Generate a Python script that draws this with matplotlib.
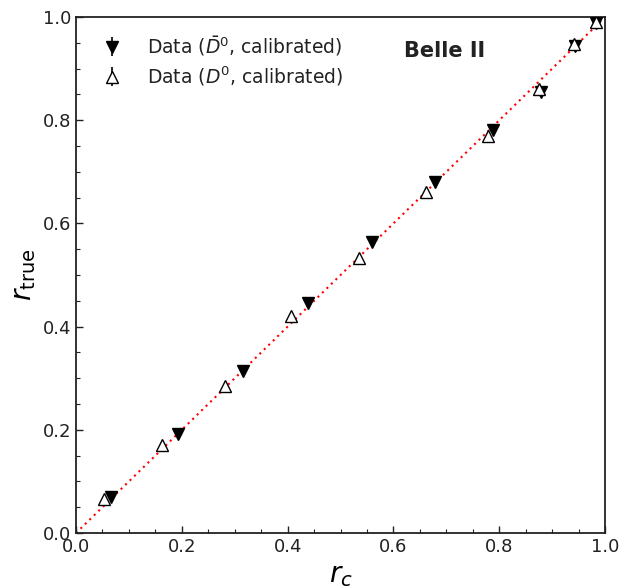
import matplotlib
matplotlib.use("Agg")
import matplotlib.pyplot as plt
from matplotlib.ticker import MultipleLocator

# D0bar (filled, down triangles)
rc_bar = [0.066, 0.192, 0.316, 0.438, 0.559, 0.678, 0.788, 0.879, 0.943, 0.983]
rt_bar = [0.070, 0.192, 0.313, 0.445, 0.564, 0.681, 0.781, 0.855, 0.944, 0.988]
err_bar = [0.005, 0.005, 0.005, 0.005, 0.005, 0.005, 0.005, 0.006, 0.006, 0.006]
# D0 (open, up triangles)
rc_d0 = [0.052, 0.163, 0.282, 0.406, 0.534, 0.662, 0.779, 0.875, 0.942, 0.983]
rt_d0 = [0.065, 0.170, 0.285, 0.420, 0.532, 0.661, 0.769, 0.861, 0.948, 0.990]
err_d0 = [0.005, 0.005, 0.005, 0.005, 0.005, 0.005, 0.005, 0.006, 0.006, 0.006]
diag = [0.0, 1.0]

fig = plt.figure(figsize=(6.21, 5.87), dpi=100)
ax = fig.add_axes([0.1224, 0.092, 0.852, 0.879])

ax.plot(diag, diag, color='red', linestyle=(0, (1, 2)), linewidth=1.5, zorder=1)
ax.errorbar(rc_bar, rt_bar, yerr=err_bar, fmt='v', color='black', markersize=8,
            elinewidth=1.2, capsize=0, label=r'Data ($\bar{D}^0$, calibrated)', zorder=3)
ax.errorbar(rc_d0, rt_d0, yerr=err_d0, fmt='^', color='black', markerfacecolor='white',
            markersize=8, elinewidth=1.2, capsize=0, label=r'Data ($D^0$, calibrated)', zorder=4)

ax.set_xlim(0, 1)
ax.set_ylim(0, 1)
ax.xaxis.set_major_locator(MultipleLocator(0.2))
ax.yaxis.set_major_locator(MultipleLocator(0.2))
ax.xaxis.set_minor_locator(MultipleLocator(0.05))
ax.yaxis.set_minor_locator(MultipleLocator(0.05))
ax.tick_params(which='both', direction='in', labelsize=13, colors='#222222')
ax.tick_params(which='major', length=5, width=1)
ax.tick_params(which='minor', length=3, width=0.8)
for s in ax.spines.values():
    s.set_linewidth(1.3)
    s.set_color('#222222')

ax.set_xlabel(r'$r_c$', fontsize=20, labelpad=4)
ax.set_ylabel(r'$r_{\rm true}$', fontsize=20, labelpad=3)

leg = ax.legend(loc='upper left', bbox_to_anchor=(0.0, 1.0), frameon=False,
                fontsize=13.5, handletextpad=0.9, borderaxespad=0.5, labelspacing=0.35)
for t in leg.get_texts():
    t.set_color('#222222')
ax.text(0.62, 0.935, 'Belle II', transform=ax.transAxes, fontsize=15,
        fontweight='bold', color='#222222', va='center')

fig.savefig('out.png', dpi=100)
